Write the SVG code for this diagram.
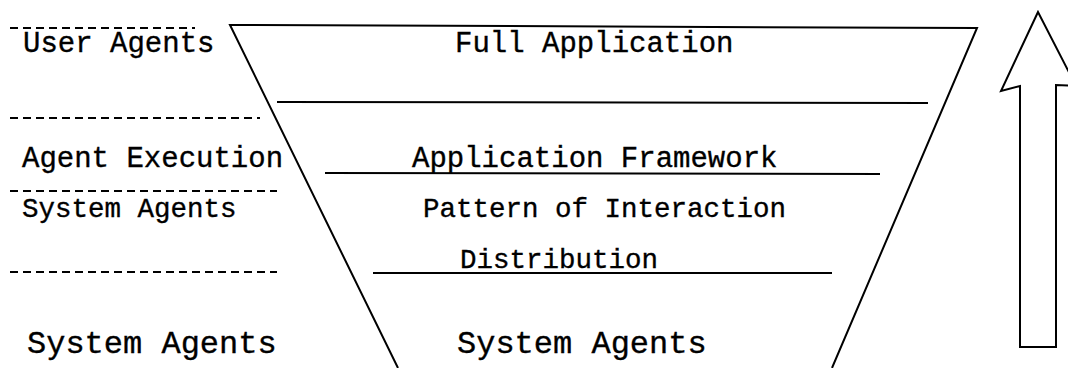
<svg xmlns="http://www.w3.org/2000/svg" width="1068" height="368" viewBox="0 0 1068 368">
  <style>
    .bg { fill: #ffffff; }
    .ln { stroke: #000000; stroke-width: 2; fill: none; stroke-linecap: butt; }
    .dash { stroke: #000000; stroke-width: 2; fill: none; stroke-dasharray: 8 5; }
    .t { font-family: "Liberation Mono", "Courier New", monospace; fill: #000000; stroke: #000000; stroke-width: 0.35; }
    .m { font-size: 29px; }
    .s { font-size: 27.5px; }
    .l { font-size: 32px; }
  </style>
  <rect class="bg" x="0" y="0" width="1068" height="368"/>

  <!-- left column: agent level labels separated by dashed rules -->
  <g id="agent-levels">
    <line class="dash" x1="10" y1="28" x2="195" y2="28"/>
    <text class="t m" x="23" y="52">User Agents</text>
    <line class="dash" x1="10" y1="118" x2="260" y2="118"/>
    <text class="t m" x="22" y="167">Agent Execution</text>
    <line class="dash" x1="10" y1="191" x2="277" y2="191"/>
    <text class="t s" x="22" y="217">System Agents</text>
    <line class="dash" x1="10" y1="272" x2="277" y2="272"/>
    <text class="t l" x="27" y="353">System Agents</text>
  </g>

  <!-- funnel outline -->
  <g id="funnel">
    <polyline class="ln" points="398,368 230,25 977,28 832,368"/>
  </g>

  <!-- funnel layers -->
  <g id="layer-full-application">
    <text class="t m" x="455" y="52">Full Application</text>
    <line class="ln" x1="277" y1="102" x2="928" y2="103"/>
  </g>
  <g id="layer-application-framework">
    <text class="t m" x="412" y="167">Application Framework</text>
    <line class="ln" x1="325" y1="173" x2="880" y2="174"/>
  </g>
  <g id="layer-pattern-of-interaction">
    <text class="t s" x="423" y="217">Pattern of Interaction</text>
  </g>
  <g id="layer-distribution">
    <text class="t s" x="460" y="268">Distribution</text>
    <line class="ln" x1="373" y1="273" x2="832" y2="273"/>
  </g>
  <g id="layer-system-agents">
    <text class="t l" x="457" y="353">System Agents</text>
  </g>

  <!-- upward block arrow -->
  <g id="connectors">
    <polygon id="up-arrow" class="ln" points="1038,12 1001,91 1020,86 1020,347 1056,347 1056,85 1076,86"/>
  </g>
</svg>
